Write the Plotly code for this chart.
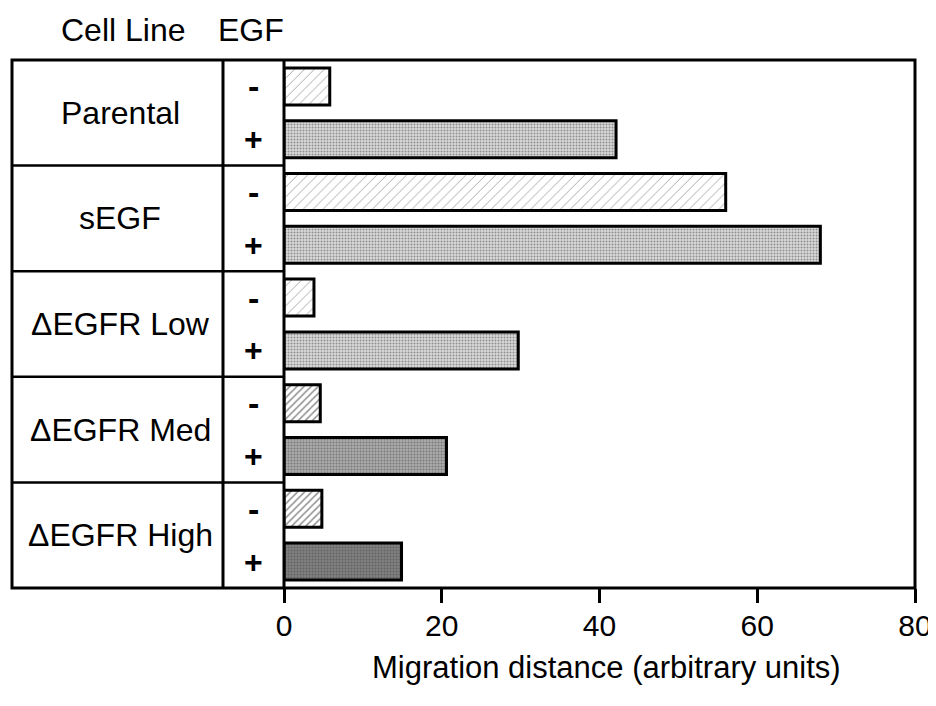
import plotly.graph_objects as go

# ---- data ----
cell_lines = ["Parental", "sEGF", "ΔEGFR Low", "ΔEGFR Med", "ΔEGFR High"]
egf_minus = [5.8, 56.0, 3.8, 4.6, 4.8]
egf_plus = [42.1, 68.0, 29.7, 20.6, 14.9]
x_ticks = [0, 20, 40, 60, 80]
egf_signs = ["-", "+"]

# page has an 8px body margin; figure is sized to fit the window
OFF = 8
W, H = 928, 690
FONT = "Liberation Sans, Arial, Helvetica, sans-serif"

def px(x):
    return (x - OFF) / W

def py(y):
    return 1 - (y - OFF) / H

# plot area / table geometry in window pixels
L, C1, C2, R = 12, 223, 284, 915
T, B = 60, 588

cats_minus = [f"{c} {egf_signs[0]}" for c in cell_lines]
cats_plus = [f"{c} {egf_signs[1]}" for c in cell_lines]
order = []
for a, b in zip(cats_minus, cats_plus):
    order += [a, b]

fig = go.Figure()

minus_fg = ["#555", "#555", "#555", "#222", "#222"]
minus_size = [7, 7, 7, 5, 5]
minus_sol = [0.14, 0.14, 0.14, 0.3, 0.3]
fig.add_trace(go.Bar(
    x=egf_minus, y=cats_minus, orientation="h", width=0.7,
    marker=dict(
        color="white",
        line=dict(color="black", width=3),
        pattern=dict(shape="/", fgcolor=minus_fg, bgcolor="white",
                     size=minus_size, solidity=minus_sol, fillmode="overlay"),
    ),
    showlegend=False, hoverinfo="x+y",
))

plus_bg = ["#d9d9d9", "#d9d9d9", "#d9d9d9", "#ababab", "#808080"]
plus_fg = ["#909090", "#909090", "#909090", "#5a5a5a", "#3a3a3a"]
fig.add_trace(go.Bar(
    x=egf_plus, y=cats_plus, orientation="h", width=0.7,
    marker=dict(
        color=plus_bg,
        line=dict(color="black", width=3),
        pattern=dict(shape=".", fgcolor=plus_fg, bgcolor=plus_bg,
                     size=3, solidity=0.35, fillmode="overlay"),
    ),
    showlegend=False, hoverinfo="x+y",
))

shapes = []
line = dict(color="black", width=3)
# outer box
shapes.append(dict(type="rect", xref="paper", yref="paper",
                   x0=px(L), x1=px(R), y0=py(B), y1=py(T), line=line))
# column dividers
for xc in (C1, C2):
    shapes.append(dict(type="line", xref="paper", yref="paper",
                       x0=px(xc), x1=px(xc), y0=py(B), y1=py(T), line=line))
# group separators in table
for i in range(1, len(cell_lines)):
    shapes.append(dict(type="line", xref="paper", yref="y",
                       x0=px(L), x1=px(C2), y0=2 * i - 0.5, y1=2 * i - 0.5,
                       line=dict(color="black", width=2.5)))

annotations = []
hdr_font = dict(family=FONT, size=32, color="black")
annotations.append(dict(text="Cell Line", x=px(123), y=py(30), xref="paper", yref="paper",
                        showarrow=False, font=hdr_font, xanchor="center", yanchor="middle"))
annotations.append(dict(text="EGF", x=px(251), y=py(30), xref="paper", yref="paper",
                        showarrow=False, font=hdr_font, xanchor="center", yanchor="middle"))
for i, c in enumerate(cell_lines):
    annotations.append(dict(text=c, x=px(120), y=2 * i + 0.5, xref="paper", yref="y",
                            showarrow=False, font=hdr_font, xanchor="center", yanchor="middle"))
    annotations.append(dict(text="<b>-</b>", x=px(253), y=cats_minus[i], xref="paper", yref="y",
                            showarrow=False, font=dict(family=FONT, size=34, color="black"),
                            xanchor="center", yanchor="middle"))
    annotations.append(dict(text="<b>+</b>", x=px(253), y=cats_plus[i], xref="paper", yref="y",
                            showarrow=False, font=dict(family=FONT, size=32, color="black"),
                            xanchor="center", yanchor="middle"))
annotations.append(dict(text="Migration distance (arbitrary units)", x=px(606), y=py(667),
                        xref="paper", yref="paper", showarrow=False,
                        font=dict(family=FONT, size=31, color="black"),
                        xanchor="center", yanchor="middle"))

fig.update_layout(
    width=W, height=H, autosize=False,
    margin=dict(l=0, r=0, t=0, b=0),
    paper_bgcolor="white", plot_bgcolor="white",
    barmode="overlay",
    font=dict(family=FONT, size=30, color="black"),
    xaxis=dict(domain=[px(C2), px(R)], range=[0, 80], tickvals=x_ticks,
               ticktext=[str(v) for v in x_ticks],
               ticks="outside", ticklen=14, tickwidth=2.5, tickcolor="black",
               ticklabelstandoff=-3,
               showgrid=False, zeroline=False, showline=False,
               tickfont=dict(family=FONT, size=30, color="black"), automargin=False),
    yaxis=dict(domain=[py(B), py(T)], type="category", categoryorder="array",
               categoryarray=order, range=[len(order) - 0.5, -0.5],
               showticklabels=False, ticks="", showgrid=False, zeroline=False,
               showline=False, automargin=False),
    shapes=shapes, annotations=annotations,
)

fig.write_html("out.html")
